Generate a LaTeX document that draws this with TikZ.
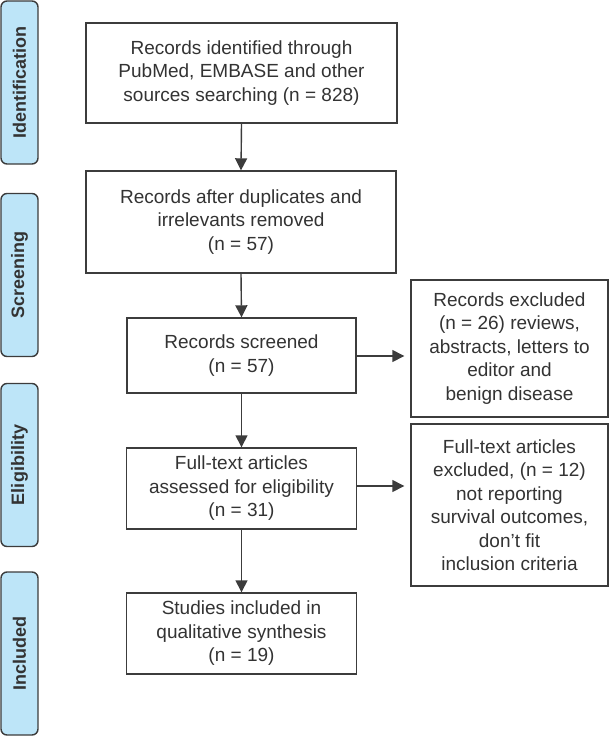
\documentclass[tikz,border=0pt]{standalone}
\usepackage{fontspec}
\setmainfont{Liberation Sans}
\usetikzlibrary{arrows.meta}
\definecolor{txt}{HTML}{333333}
\definecolor{ln}{HTML}{3C3C3C}
\definecolor{phase}{HTML}{BDE5F8}
\begin{document}
\begin{tikzpicture}[x=1bp,y=-1bp,
  box/.style={draw=ln,line width=1.4bp,fill=white,text=txt,align=center,inner sep=0pt,
    font=\fontsize{19bp}{23.5bp}\selectfont},
  phasebox/.style={draw=ln,line width=1.4bp,fill=phase,rounded corners=6bp,inner sep=0pt,
    minimum width=37bp,text=txt,font=\fontsize{18bp}{20bp}\selectfont\bfseries},
  arr/.style={draw=ln,line width=1.4bp,-{Triangle[length=12bp,width=12bp]}}]
\useasboundingbox (0,0) rectangle (609,736);
% phase labels
\node[phasebox,minimum height=163bp] (p1) at (19.5,82.5) {\rotatebox{90}{Identification}};
\node[phasebox,minimum height=163bp] (p2) at (19.5,275) {\rotatebox{90}{Screening}};
\node[phasebox,minimum height=163bp] (p3) at (19.5,465) {\rotatebox{90}{Eligibility}};
\node[phasebox,minimum height=163bp] (p4) at (19.5,653.5) {\rotatebox{90}{Included}};
% main boxes
\node[box,minimum width=311bp,minimum height=100bp] (b1) at (241.5,73)
  {Records identified through\\PubMed, EMBASE and other\\sources searching (n = 828)};
\node[box,minimum width=310bp,minimum height=102bp] (b2) at (241,222)
  {Records after duplicates and\\irrelevants removed\\(n = 57)};
\node[box,minimum width=229bp,minimum height=75bp] (b3) at (241.5,355.5)
  {Records screened\\(n = 57)};
\node[box,minimum width=230bp,minimum height=81bp] (b4) at (241.5,488.5)
  {Full-text articles\\assessed for eligibility\\(n = 31)};
\node[box,minimum width=230bp,minimum height=81bp] (b5) at (241.5,633.5)
  {Studies included in\\qualitative synthesis\\(n = 19)};
% exclusion boxes
\node[box,minimum width=197bp,minimum height=137bp] (e1) at (509.5,348.5)
  {Records excluded\\(n = 26) reviews,\\abstracts, letters to\\editor and\\benign disease};
\node[box,minimum width=197bp,minimum height=162bp] (e2) at (509.5,505)
  {Full-text articles\\excluded, (n = 12)\\not reporting\\survival outcomes,\\don’t fit\\inclusion criteria};
% arrows
\draw[arr] (b1.south) -- (b2.north);
\draw[arr] (b2.south) -- (b3.north);
\draw[arr] (b3.south) -- (b4.north);
\draw[arr] (b4.south) -- (b5.north);
\draw[arr,shorten >=6bp] (b3.east |- 0,356) -- (e1.west |- 0,356);
\draw[arr,shorten >=6bp] (b4.east |- 0,486) -- (e2.west |- 0,486);
\end{tikzpicture}
\end{document}
